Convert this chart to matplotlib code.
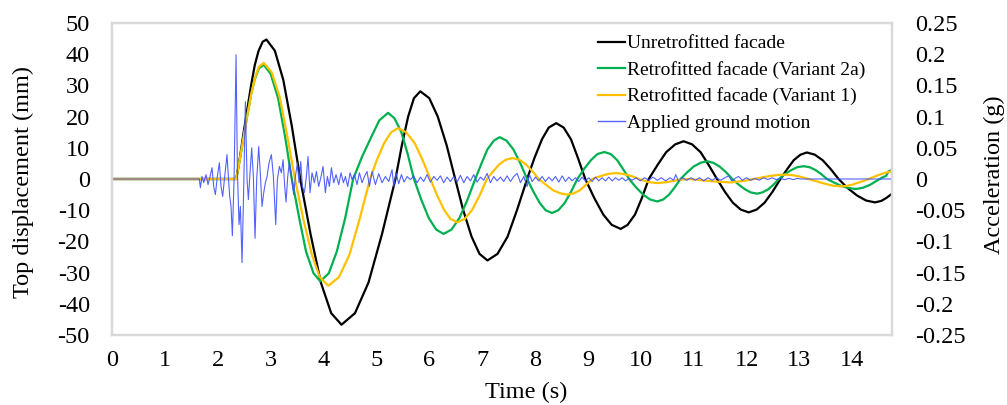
import matplotlib
matplotlib.use("Agg")
import matplotlib.pyplot as plt
from matplotlib.lines import Line2D

plt.rcParams['font.family'] = ['Liberation Serif', 'DejaVu Serif']
plt.rcParams['axes.unicode_minus'] = False

# ---------------- data ----------------
unretro_t = [0, 2.35, 2.42, 2.49, 2.56, 2.63, 2.70, 2.77, 2.85, 2.92,
             3.08, 3.24, 3.40, 3.56, 3.755, 3.95, 4.145, 4.34,
             4.595, 4.85, 5.105, 5.36, 5.48, 5.60, 5.71, 5.83,
             6.00, 6.16, 6.33, 6.49, 6.64, 6.80, 6.95, 7.10,
             7.29, 7.48, 7.66, 7.85, 7.99, 8.13, 8.26, 8.40,
             8.54, 8.68, 8.81, 8.95, 9.12, 9.29, 9.45, 9.62,
             9.75, 9.89, 10.02, 10.15, 10.32, 10.48, 10.65, 10.81,
             10.97, 11.13, 11.28, 11.44, 11.59, 11.74, 11.89, 12.04,
             12.19, 12.34, 12.49, 12.64, 12.77, 12.89, 13.02, 13.14,
             13.29, 13.44, 13.59, 13.74, 13.91, 14.09, 14.26, 14.43,
             14.55, 14.65, 14.75]
unretro_d = [0, 0, 7.0, 15.0, 22.5, 30.0, 36.5, 41.0, 44.0, 44.7,
             41.1, 31.7, 17.0, 0, -17.7, -33.2, -43.0, -46.7,
             -43.0, -33.2, -17.7, 0, 10.7, 20.0, 25.9, 28.1,
             25.9, 20.0, 10.7, 0, -9.9, -18.5, -24.0, -26.1,
             -24.0, -18.5, -9.9, 0, 6.8, 12.7, 16.5, 17.9,
             16.5, 12.7, 6.8, 0, -6.1, -11.4, -14.7, -16.0,
             -14.7, -11.4, -6.1, 0, 4.6, 8.6, 11.1, 12.1,
             11.1, 8.6, 4.6, 0, -4.1, -7.6, -9.8, -10.7,
             -9.8, -7.6, -4.1, 0, 3.2, 6.0, 7.8, 8.5,
             7.8, 6.0, 3.2, 0, -2.9, -5.3, -6.9, -7.5,
             -7.0, -6.0, -4.7]

var2a_t = [0, 2.35, 2.42, 2.49, 2.56, 2.63, 2.70, 2.78, 2.87,
           3.00, 3.14, 3.27, 3.40, 3.54, 3.67, 3.81, 3.94,
           4.10, 4.25, 4.41, 4.56, 4.725, 4.89, 5.055, 5.22,
           5.34, 5.47, 5.59, 5.71, 5.85, 5.99, 6.13, 6.27,
           6.42, 6.57, 6.72, 6.87, 6.99, 7.10, 7.22, 7.33,
           7.46, 7.59, 7.72, 7.85, 7.97, 8.09, 8.20, 8.32,
           8.44, 8.56, 8.68, 8.80, 8.93, 9.06, 9.18, 9.31,
           9.43, 9.55, 9.66, 9.78, 9.91, 10.05, 10.18, 10.31,
           10.42, 10.53, 10.64, 10.75, 10.88, 11.00, 11.13, 11.25,
           11.37, 11.49, 11.61, 11.73, 11.85, 11.97, 12.08, 12.20,
           12.30, 12.41, 12.51, 12.61, 12.73, 12.85, 12.96, 13.08,
           13.19, 13.30, 13.41, 13.52, 13.66, 13.80, 13.93, 14.07,
           14.20, 14.33, 14.46, 14.58, 14.64, 14.68, 14.75]
var2a_d = [0, 0, 6.5, 13.5, 20.5, 27.0, 32.0, 35.5, 36.6,
           33.7, 26.0, 13.9, 0, -12.5, -23.3, -30.2, -32.8,
           -30.2, -23.3, -12.5, 0, 7.0, 13.0, 18.8, 21.2,
           19.5, 15.1, 8.1, 0, -6.7, -12.5, -16.2, -17.6,
           -16.2, -12.5, -6.7, 0, 5.1, 9.5, 12.3, 13.4,
           12.3, 9.5, 5.1, 0, -4.1, -7.7, -10.0, -10.9,
           -10.0, -7.7, -4.1, 0, 3.3, 6.1, 8.0, 8.65,
           8.0, 6.1, 3.3, 0, -2.7, -5.1, -6.6, -7.2,
           -6.6, -5.1, -2.7, 0, 2.2, 4.0, 5.2, 5.7,
           5.2, 4.0, 2.2, 0, -1.8, -3.3, -4.3, -4.7,
           -4.3, -3.3, -1.8, 0, 1.6, 2.9, 3.8, 4.1,
           3.8, 2.9, 1.6, 0, -1.2, -2.3, -2.9, -3.2,
           -2.8, -1.9, -0.6, 0.6, 1.0, 2.4, 2.9]

var1_t = [0, 2.35, 2.42, 2.49, 2.56, 2.63, 2.70, 2.78, 2.87,
          3.02, 3.17, 3.31, 3.46, 3.62, 3.78, 3.93, 4.09,
          4.29, 4.49, 4.68, 4.88, 5.01, 5.15, 5.28, 5.41,
          5.56, 5.72, 5.87, 6.02, 6.15, 6.28, 6.40, 6.53,
          6.67, 6.81, 6.95, 7.09, 7.21, 7.33, 7.45, 7.57,
          7.70, 7.82, 7.95, 8.07, 8.21, 8.34, 8.48, 8.61,
          8.73, 8.85, 8.96, 9.08, 9.20, 9.32, 9.43, 9.55,
          9.70, 9.84, 10.0, 10.15, 10.31, 10.5, 10.7, 10.9, 11.1, 11.4, 11.7, 11.95,
          12.2, 12.45, 12.6, 12.74, 12.88, 13.0, 13.25, 13.5, 13.64, 13.77, 13.9,
          14.0, 14.25, 14.5, 14.62, 14.75]
var1_d = [0, 0, 6.5, 13.5, 20.5, 27.0, 32.3, 36.0, 37.2,
          34.2, 26.4, 14.1, 0, -13.0, -24.3, -31.5, -34.2,
          -31.5, -24.3, -13.0, 0, 6.2, 11.6, 15.0, 16.3,
          15.0, 11.6, 6.2, 0, -5.3, -9.9, -12.8, -13.9,
          -12.8, -9.9, -5.3, 0, 2.5, 4.8, 6.2, 6.7,
          6.2, 4.8, 2.5, 0, -1.9, -3.6, -4.6, -5.0,
          -4.6, -3.6, -1.9, 0, 0.7, 1.35, 1.75, 1.9,
          1.5, 0.85, -0.2, -1.0, -1.3, -1.0, -0.3, 0, -0.3, -0.8, -1.1, -0.6,
          0.2, 1.0, 1.3, 1.4, 1.2, 0.8, -0.4, -1.6, -2.15, -2.35, -2.2,
          -1.8, -0.4, 1.3, 2.0, 2.5]

ground_t = [0, 1.652, 1.671, 1.702, 1.734, 1.778, 1.816, 1.854, 1.892, 1.923, 1.955, 1.992, 2.030,
            2.062, 2.093, 2.131, 2.175, 2.200, 2.226, 2.251, 2.276, 2.308, 2.346, 2.371, 2.402,
            2.428, 2.459, 2.491, 2.522, 2.554, 2.579, 2.610, 2.642, 2.673, 2.705, 2.736, 2.774,
            2.806, 2.837, 2.869, 2.900, 2.932, 2.970, 3.014, 3.052, 3.096, 3.127, 3.165, 3.203,
            3.235, 3.266, 3.291, 3.323, 3.354, 3.392, 3.436, 3.468, 3.506, 3.537, 3.569, 3.600,
            3.638, 3.676, 3.707, 3.745, 3.783, 3.827, 3.865, 3.909, 3.953, 3.991, 4.035, 4.073,
            4.111, 4.149, 4.193, 4.237, 4.288, 4.332, 4.376, 4.414, 4.458, 4.502, 4.540, 4.584,
            4.634, 4.678, 4.729, 4.773, 4.823, 4.868,
            4.918, 4.981, 5.044, 5.107, 5.170, 5.233, 5.296, 5.328, 5.372, 5.422, 5.473, 5.523,
            5.580, 5.643, 5.706, 5.769, 5.832, 5.895, 5.958, 6.021, 6.084, 6.147, 6.210, 6.273,
            6.336, 6.399, 6.463, 6.526, 6.589, 6.652, 6.715, 6.778, 6.841, 6.904, 6.967, 7.030,
            7.093, 7.156, 7.219, 7.282, 7.345, 7.408, 7.472, 7.535, 7.598, 7.661, 7.724, 7.787,
            7.850, 7.894, 7.945, 8.008, 8.071, 8.134, 8.197, 8.260, 8.323, 8.386, 8.449, 8.512,
            8.575, 8.638, 8.701, 8.764, 8.827, 8.890, 8.953, 9.016, 9.079, 9.142, 9.205, 9.268,
            9.331, 9.394, 9.458, 9.521, 9.584, 9.647, 9.710, 9.773,
            9.836, 9.91, 9.99, 10.07, 10.15, 10.23, 10.31, 10.39, 10.47, 10.55, 10.62, 10.66,
            10.71, 10.79, 10.87, 10.95, 11.03, 11.11, 11.19, 11.27, 11.35, 11.43, 11.51, 11.59,
            11.66, 11.72, 11.80, 11.85, 11.92, 12.00, 12.08, 12.16, 12.24, 12.32, 12.40, 12.48,
            12.56, 12.64, 12.72, 12.80, 12.88, 12.96, 13.02, 14.75]
ground_g = [0, 0, -0.014, 0.004, -0.006, 0.007, -0.009, 0.004, 0.018, -0.012, -0.025, 0.004, 0.026,
            -0.012, -0.028, 0.004, 0.039, 0.004, -0.028, -0.044, -0.091, -0.001, 0.199, 0.015, -0.073,
            -0.044, -0.134, -0.012, 0.124, -0.001, -0.033, 0.010, 0.050, 0.004, -0.095, -0.001, 0.052,
            0.007, -0.044, -0.022, -0.006, 0.004, 0.026, 0.039, 0.004, -0.073, -0.001, 0.020, 0.010,
            0.031, -0.012, -0.037, 0.004, 0.027, 0.004, -0.025, 0.004, 0.026, -0.006, 0.028, -0.012,
            -0.022, 0.004, 0.036, -0.022, 0.010, -0.006, 0.012, -0.012, 0.004, 0.020, -0.022, 0.004,
            -0.012, 0.018, -0.006, 0.007, -0.009, 0.010, -0.006, 0.004, -0.012, 0.010, -0.001, 0.007,
            -0.009, 0.010, -0.006, 0.004, 0.012, -0.012,
            0.012, -0.009, 0.0085, -0.006, 0.004, -0.004, 0.015, -0.012, 0.0096, -0.0075, 0.007, -0.005,
            0.004, -0.001, 0.005, -0.006, 0.003, -0.004, 0.007, -0.005, 0.004, -0.002, 0.005, -0.006,
            0.003, -0.004, 0.004, -0.005, 0.006, -0.006, 0.004, -0.003, 0.007, -0.005, 0.003, -0.002,
            0.009, -0.006, 0.004, -0.003, 0.003, -0.004, 0.005, -0.004, 0.004, 0.009, -0.006, 0.004,
            -0.012, 0.007, -0.004, 0.003, -0.003, 0.004, -0.004, 0.003, -0.003, 0.004, -0.005, 0.005,
            -0.004, 0.003, -0.003, 0.002, -0.004, 0.003, -0.003, 0.002, -0.004, 0.003, -0.003, 0.002,
            -0.003, 0.003, -0.003, 0.002, -0.002, 0.002, -0.003, 0.001,
            -0.002, 0.002, -0.003, 0.002, -0.002, 0.003, -0.002, 0.002, -0.003, 0.002, -0.002, 0.007,
            -0.003, 0.002, -0.002, 0.002, -0.002, 0.002, -0.003, 0.002, -0.002, 0.002, -0.002, 0.002,
            0.005, -0.003, 0.002, 0.004, -0.002, 0.002, -0.002, 0.001, -0.002, 0.002, -0.001, 0.002,
            -0.001, 0.001, -0.001, 0.001, -0.001, 0.001, 0, 0]

x_ticks = list(range(0, 15))
left_ticks = list(range(-50, 51, 10))
right_ticks = [-0.25, -0.2, -0.15, -0.1, -0.05, 0, 0.05, 0.1, 0.15, 0.2, 0.25]
right_tick_labels = ['-0.25', '-0.2', '-0.15', '-0.1', '-0.05', '0', '0.05', '0.1', '0.15', '0.2', '0.25']

labels = ['Unretrofitted facade', 'Retrofitted facade (Variant 2a)',
          'Retrofitted facade (Variant 1)', 'Applied ground motion']

# ---------------- figure ----------------
W, H = 1007, 405
fig = plt.figure(figsize=(W / 100, H / 100), dpi=100)
ax = fig.add_axes([112 / W, 70 / H, 780 / W, 312 / H])
ax2 = ax.twinx()

c_black = '#000000'
c_green = '#00B050'
c_gold = '#FFC000'
c_blue = '#3F51FF'

ax.plot(unretro_t, unretro_d, color=c_black, lw=1.6, zorder=2, solid_joinstyle='round')
ax.plot(var2a_t, var2a_d, color=c_green, lw=1.6, zorder=3, solid_joinstyle='round')
ax.plot(var1_t, var1_d, color=c_gold, lw=1.6, zorder=4, solid_joinstyle='round')
ax2.plot(ground_t, ground_g, color=c_blue, lw=0.8, alpha=0.9)

ax.set_xlim(0, 14.75)
ax.set_ylim(-50, 50)
ax2.set_ylim(-0.25, 0.25)

ax.set_xticks(x_ticks)
ax.set_yticks(left_ticks)
ax2.set_yticks(right_ticks)
ax2.set_yticklabels(right_tick_labels)

for a in (ax, ax2):
    a.tick_params(axis='both', length=0, labelsize=17.5)
    for s in a.spines.values():
        s.set_color('#D9D9D9')
        s.set_linewidth(1.6)
ax.tick_params(axis='y', pad=16)
ax.tick_params(axis='x', pad=11)
ax2.tick_params(axis='y', pad=16.5)

fig.text(526 / W, 1 - 392 / H, 'Time (s)', fontsize=17.5, ha='center', va='center')
fig.text(23 / W, 1 - 182 / H, 'Top displacement (mm)', fontsize=17.5,
         ha='center', va='center', rotation=90)
fig.text(994 / W, 1 - 175 / H, 'Acceleration (g)', fontsize=17.5,
         ha='center', va='center', rotation=90)

handles = [Line2D([], [], color=c_black, lw=1.6),
           Line2D([], [], color=c_green, lw=1.6),
           Line2D([], [], color=c_gold, lw=1.6),
           Line2D([], [], color=c_blue, lw=1.0, alpha=0.9)]
ax2.legend(handles, labels, loc='upper left', bbox_to_anchor=(0.623, 0.962),
           frameon=False, fontsize=14, handlelength=1.4, handletextpad=0.1,
           labelspacing=0.44, borderpad=0, borderaxespad=0)

fig.savefig('out.png', dpi=100)
